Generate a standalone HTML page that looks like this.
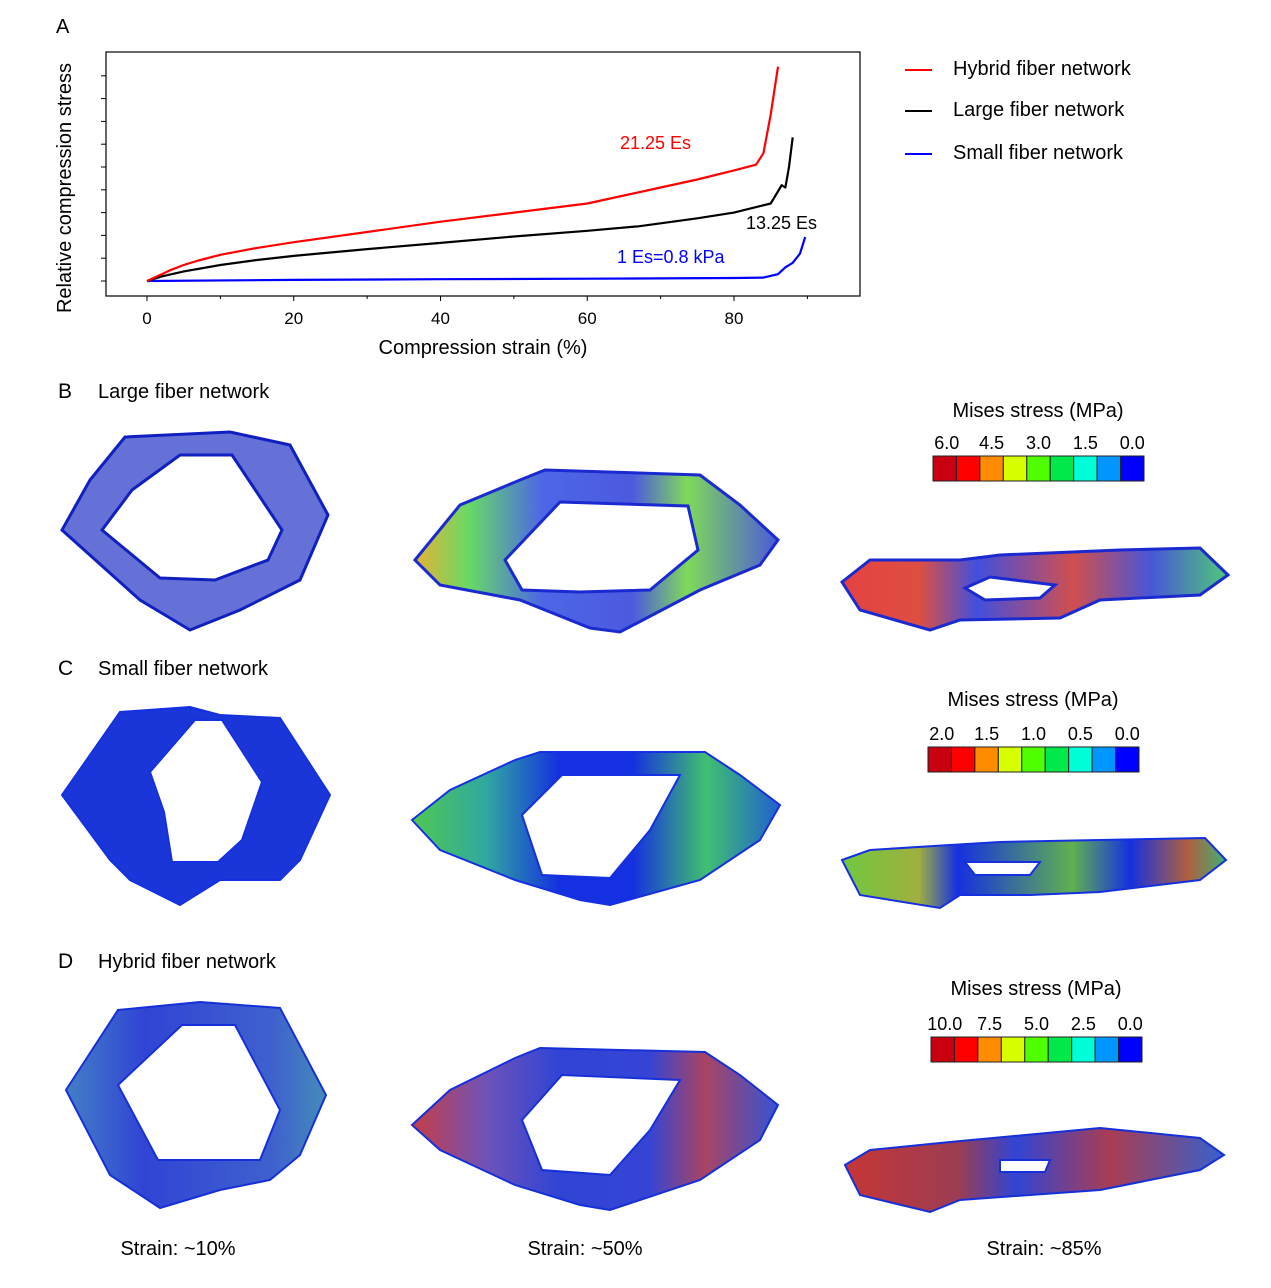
<!DOCTYPE html>
<html><head><meta charset="utf-8"><style>
body{margin:0;background:#fff;}
svg text{font-family:"Liberation Sans",Arial,sans-serif;}
</style></head><body>
<svg id="fig" width="1271" height="1283" viewBox="0 0 1271 1283" xmlns="http://www.w3.org/2000/svg">
<defs>
<linearGradient id="gB2" x1="0" x2="1" y1="0" y2="0"><stop offset="0" stop-color="#e0a000"/><stop offset="0.15" stop-color="#40d040"/><stop offset="0.35" stop-color="#2040e0"/><stop offset="0.6" stop-color="#2030d8"/><stop offset="0.75" stop-color="#60d030"/><stop offset="1" stop-color="#1e30d0"/></linearGradient>
<linearGradient id="gB3" x1="0" x2="1" y1="0" y2="0"><stop offset="0" stop-color="#e02020"/><stop offset="0.2" stop-color="#d83020"/><stop offset="0.35" stop-color="#2030d8"/><stop offset="0.6" stop-color="#c83030"/><stop offset="0.8" stop-color="#2838d0"/><stop offset="1" stop-color="#30c060"/></linearGradient>
<linearGradient id="gC2" x1="0" x2="1" y1="0" y2="0"><stop offset="0" stop-color="#50c850"/><stop offset="0.2" stop-color="#30a8a0"/><stop offset="0.4" stop-color="#1530e0"/><stop offset="0.6" stop-color="#1530e0"/><stop offset="0.8" stop-color="#40c070"/><stop offset="1" stop-color="#2060d0"/></linearGradient>
<linearGradient id="gC3" x1="0" x2="1" y1="0" y2="0"><stop offset="0" stop-color="#70c840"/><stop offset="0.2" stop-color="#a0b040"/><stop offset="0.3" stop-color="#1530e0"/><stop offset="0.6" stop-color="#60b050"/><stop offset="0.75" stop-color="#1530e0"/><stop offset="0.9" stop-color="#b06040"/><stop offset="1" stop-color="#40b070"/></linearGradient>
<linearGradient id="gD1" x1="0" x2="1" y1="0" y2="0"><stop offset="0" stop-color="#3070c0"/><stop offset="0.3" stop-color="#1a30d0"/><stop offset="0.8" stop-color="#2a50c8"/><stop offset="1" stop-color="#3080b0"/></linearGradient>
<linearGradient id="gD2" x1="0" x2="1" y1="0" y2="0"><stop offset="0" stop-color="#c02830"/><stop offset="0.2" stop-color="#6040b0"/><stop offset="0.4" stop-color="#1a30d0"/><stop offset="0.65" stop-color="#2030d0"/><stop offset="0.8" stop-color="#a03050"/><stop offset="1" stop-color="#2040d0"/></linearGradient>
<linearGradient id="gD3" x1="0" x2="1" y1="0" y2="0"><stop offset="0" stop-color="#c02020"/><stop offset="0.3" stop-color="#902840"/><stop offset="0.45" stop-color="#1a30d0"/><stop offset="0.7" stop-color="#a02840"/><stop offset="1" stop-color="#2050c8"/></linearGradient>
</defs>

<text x="56" y="33" font-size="20">A</text>
<g id="chart"></g>

<g>
 <line x1="905" y1="70" x2="932" y2="70" stroke="#ff0000" stroke-width="2"/>
 <text x="953" y="75" font-size="20">Hybrid fiber network</text>
 <line x1="905" y1="111" x2="932" y2="111" stroke="#000" stroke-width="2"/>
 <text x="953" y="116" font-size="20">Large fiber network</text>
 <line x1="905" y1="154" x2="932" y2="154" stroke="#0000ff" stroke-width="2"/>
 <text x="953" y="159" font-size="20">Small fiber network</text>
</g>

<text x="58" y="398" font-size="21">B</text>
<text x="98" y="398" font-size="20">Large fiber network</text>
<text x="58" y="675" font-size="21">C</text>
<text x="98" y="675" font-size="20">Small fiber network</text>
<text x="58" y="968" font-size="21">D</text>
<text x="98" y="968" font-size="20">Hybrid fiber network</text>

<g id="shapes">
 <path fill-rule="evenodd" fill="#2535c8" fill-opacity="0.7" stroke="#1020c0" stroke-width="3" d="M125,437 L230,432 L290,445 L328,515 L300,580 L240,610 L190,630 L140,600 L62,530 L90,480 Z M180,455 L232,455 L282,530 L268,560 L215,580 L160,578 L102,530 L132,490 Z"/>
 <path fill-rule="evenodd" fill="url(#gB2)" fill-opacity="0.8" stroke="#1a2ad0" stroke-width="3" d="M415,560 L460,505 L520,480 L545,470 L700,475 L740,505 L778,540 L760,565 L700,590 L620,632 L590,628 L520,600 L440,585 Z M505,560 L560,502 L688,506 L698,550 L650,590 L580,592 L522,590 Z"/>
 <path fill-rule="evenodd" fill="url(#gB3)" fill-opacity="0.85" stroke="#1a2ad0" stroke-width="3" d="M842,582 L870,560 L960,560 L1000,555 L1120,550 L1200,548 L1228,575 L1200,595 L1100,600 L1060,618 L960,620 L930,630 L860,610 Z M965,588 L990,577 L1055,585 L1040,598 L985,600 Z"/>
 <path fill-rule="evenodd" fill="#1a35d8" stroke="#1530e0" stroke-width="2" d="M120,712 L190,707 L220,715 L280,718 L330,795 L300,860 L280,880 L220,880 L180,905 L130,880 L110,860 L62,795 Z M195,720 L222,720 L262,782 L242,840 L218,862 L172,862 L164,812 L150,772 Z"/>
 <path fill-rule="evenodd" fill="url(#gC2)" stroke="#1530e0" stroke-width="2" d="M412,820 L450,790 L515,760 L540,752 L705,752 L740,775 L780,805 L760,840 L700,880 L610,905 L580,900 L515,880 L440,850 Z M522,815 L562,775 L680,775 L650,830 L610,878 L542,875 Z"/>
 <path fill-rule="evenodd" fill="url(#gC3)" stroke="#1530e0" stroke-width="2" d="M842,860 L870,850 L950,845 L1000,842 L1100,840 L1205,838 L1226,860 L1200,880 L1100,892 L1030,895 L960,895 L940,908 L860,895 Z M965,862 L1040,862 L1030,875 L975,875 Z"/>
 <path fill-rule="evenodd" fill="url(#gD1)" fill-opacity="0.9" stroke="#1530d8" stroke-width="2" d="M118,1010 L200,1002 L280,1008 L326,1095 L300,1155 L270,1180 L220,1190 L160,1208 L110,1175 L66,1090 Z M182,1025 L235,1025 L280,1110 L260,1160 L158,1160 L118,1085 Z"/>
 <path fill-rule="evenodd" fill="url(#gD2)" fill-opacity="0.9" stroke="#1530d8" stroke-width="2" d="M412,1125 L450,1090 L515,1058 L540,1048 L705,1052 L740,1075 L778,1105 L760,1140 L700,1180 L610,1210 L580,1205 L515,1185 L440,1150 Z M522,1120 L562,1075 L680,1080 L650,1130 L610,1175 L542,1170 Z"/>
 <path fill-rule="evenodd" fill="url(#gD3)" fill-opacity="0.9" stroke="#1530d8" stroke-width="2" d="M845,1165 L870,1150 L950,1142 L1100,1128 L1200,1138 L1224,1155 L1200,1170 L1100,1190 L960,1200 L930,1212 L860,1195 Z M1000,1160 L1050,1160 L1045,1172 L1000,1172 Z"/>
</g>

<g id="colorbars"></g>

<text x="178" y="1255" font-size="20" text-anchor="middle">Strain: ~10%</text>
<text x="585" y="1255" font-size="20" text-anchor="middle">Strain: ~50%</text>
<text x="1044" y="1255" font-size="20" text-anchor="middle">Strain: ~85%</text>
</svg>
<script>
const NS="http://www.w3.org/2000/svg";
const xTicks=[0,20,40,60,80];
const yTickCount=10;
const hybridX=[0,1,2,3,5,7,10,15,20,30,40,50,60,65,70,75,80,83,84,85,86];
const hybridY=[0,0.15,0.3,0.45,0.7,0.9,1.15,1.45,1.7,2.15,2.6,3.0,3.4,3.75,4.1,4.45,4.85,5.1,5.6,7.3,9.4];
const largeX=[0,2,5,10,15,20,30,40,50,60,67,75,80,85,86.5,87,87.5,88];
const largeY=[0,0.2,0.42,0.7,0.92,1.1,1.4,1.67,1.95,2.2,2.4,2.75,3.0,3.4,4.2,4.1,5.0,6.3];
const smallX=[0,20,40,60,80,84,86,87,88,89,89.7];
const smallY=[0,0.05,0.08,0.1,0.13,0.15,0.3,0.6,0.8,1.2,1.93];
const cbColors=["#c8000f","#ff0000","#ff8c00","#d8ff00","#50ff00","#00e84a","#00ffd8","#0096ff","#0000ff"];
const cbLabelsB=["6.0","4.5","3.0","1.5","0.0"];
const cbLabelsC=["2.0","1.5","1.0","0.5","0.0"];
const cbLabelsD=["10.0","7.5","5.0","2.5","0.0"];

const X=v=>147+v*(734-147)/80;
const Y=v=>281-v*22.8;
function mk(tag,attrs,parent,txt){const e=document.createElementNS(NS,tag);for(const k in attrs)e.setAttribute(k,attrs[k]);if(txt!==undefined)e.textContent=txt;parent.appendChild(e);return e;}
const ch=document.getElementById('chart');
const frame=mk('rect',{x:106,y:52,width:754,height:244,fill:'none',stroke:'#000','stroke-width':1.2},ch);


for(let i=0;i<yTickCount;i++){const t=mk('line',{x1:106,x2:101,y1:Y(i),y2:Y(i),stroke:'#000'},ch);

}
for(let v=0;v<=90;v+=10){const t=mk('line',{x1:X(v),x2:X(v),y1:296,y2:v%20==0?301:299,stroke:'#000'},ch);

}
xTicks.forEach(v=>{const t=mk('text',{x:X(v),y:324,'font-size':17,'text-anchor':'middle'},ch,String(v));

});
const xt=mk('text',{x:483,y:354,'font-size':20,'text-anchor':'middle'},ch,'Compression strain (%)');


const yt=mk('text',{x:0,y:0,'font-size':20,'text-anchor':'middle',transform:'translate(71,188) rotate(-90)'},ch,'Relative compression stress');


function line(xs,ys,color,name){const d=xs.map((x,i)=>(i?'L':'M')+X(x).toFixed(1)+','+Y(ys[i]).toFixed(1)).join(' ');
const p=mk('path',{d:d,fill:'none',stroke:color,'stroke-width':2.2,'stroke-linejoin':'round'},ch);

}
line(smallX,smallY,'#0000ff','small-fiber-line');
line(largeX,largeY,'#000','large-fiber-line');
line(hybridX,hybridY,'#ff0000','hybrid-fiber-line');
const a1=mk('text',{x:620,y:149,'font-size':18,fill:'#ff0000'},ch,'21.25 Es');


const a2=mk('text',{x:746,y:229,'font-size':18,fill:'#000'},ch,'13.25 Es');


const a3=mk('text',{x:617,y:263,'font-size':18,fill:'#0000ff'},ch,'1 Es=0.8 kPa');



const cbg=document.getElementById('colorbars');
function colorbar(x,y,titleY,labels,name){const g=mk('g',{},cbg);


const w=211/cbColors.length;
const t=mk('text',{x:x+105,y:titleY,'font-size':20,'text-anchor':'middle'},g,'Mises stress (MPa)');


cbColors.forEach((c,i)=>{const r=mk('rect',{x:x+i*w,y:y,width:w,height:25,fill:c,stroke:'#222','stroke-width':1},g);

});
labels.forEach((l,i)=>{const tx=mk('text',{x:x+w/2+i*2*w+(i==0?2:0),y:y-7,'font-size':18,'text-anchor':'middle'},g,l);

});}
colorbar(933,456,417,cbLabelsB,'colorbar-large');
colorbar(928,747,706,cbLabelsC,'colorbar-small');
colorbar(931,1037,995,cbLabelsD,'colorbar-hybrid');
</script>
</body></html>
